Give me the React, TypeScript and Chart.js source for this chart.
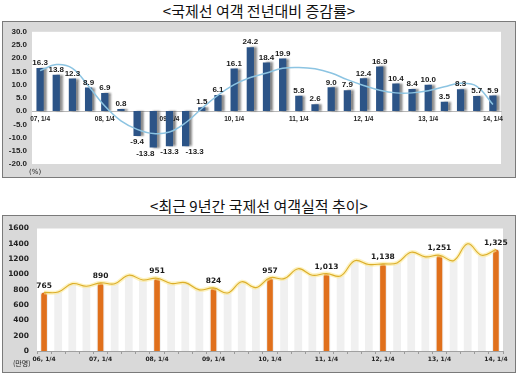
import React, { useEffect, useRef } from 'react';
import { Chart, registerables } from 'chart.js';

Chart.register(...registerables);

const topTitle = '<국제선 여객 전년대비 증감률>';
const bottomTitle = '<최근 9년간 국제선 여객실적 추이>';

const topCategories = [
  '07, 1/4', '07, 2/4', '07, 3/4', '07, 4/4',
  '08, 1/4', '08, 2/4', '08, 3/4', '08, 4/4',
  '09, 1/4', '09, 2/4', '09, 3/4', '09, 4/4',
  '10, 1/4', '10, 2/4', '10, 3/4', '10, 4/4',
  '11, 1/4', '11, 2/4', '11, 3/4', '11, 4/4',
  '12, 1/4', '12, 2/4', '12, 3/4', '12, 4/4',
  '13, 1/4', '13, 2/4', '13, 3/4', '13, 4/4',
  '14, 1/4',
];
const growthRate = [
  16.3, 13.8, 12.3, 8.9, 6.9, 0.8, -9.4, -13.8, -13.3, -13.3, 1.5, 6.1, 16.1, 24.2, 18.4,
  19.9, 5.8, 2.6, 9.0, 7.9, 12.4, 16.9, 10.4, 8.4, 10.0, 3.5, 8.3, 5.7, 5.9,
];
const growthTrend = [
  15.3, 17.6, 16.2, 9.4, 1.9, -3.7, -6.9, -8.5, -7.9, -4.4, 1.0, 6.0, 10.0, 12.7, 14.4,
  16.2, 16.5, 16.0, 14.4, 11.9, 9.7, 7.9, 6.9, 6.9, 7.7, 9.2, 10.5, 9.4, 2.5,
];
const topYTicks = [30, 25, 20, 15, 10, 5, 0, -5, -10, -15, -20];

const bottomCategories = [
  '06, 1/4', '06, 2/4', '06, 3/4', '06, 4/4',
  '07, 1/4', '07, 2/4', '07, 3/4', '07, 4/4',
  '08, 1/4', '08, 2/4', '08, 3/4', '08, 4/4',
  '09, 1/4', '09, 2/4', '09, 3/4', '09, 4/4',
  '10, 1/4', '10, 2/4', '10, 3/4', '10, 4/4',
  '11, 1/4', '11, 2/4', '11, 3/4', '11, 4/4',
  '12, 1/4', '12, 2/4', '12, 3/4', '12, 4/4',
  '13, 1/4', '13, 2/4', '13, 3/4', '13, 4/4',
  '14, 1/4',
];
const quarterlyPassengers = [
  765, 770, 880, 845,
  890, 878, 990, 928,
  951, 882, 893, 798,
  824, 758, 905, 828,
  957, 945, 1075, 990,
  1013, 980, 1180, 1130,
  1138, 1150, 1290, 1230,
  1251, 1180, 1400, 1250,
  1325,
];
const bottomYTicks = [0, 200, 400, 600, 800, 1000, 1200, 1400, 1600];

const isQ1 = (c: string) => c.endsWith('1/4');

const frameBg = {
  id: 'frameBg',
  beforeDraw(chart: any) {
    const { ctx, chartArea } = chart;
    ctx.save();
    ctx.fillStyle = '#d9d9d9';
    ctx.fillRect(0, 0, chart.width, chart.height);
    ctx.fillStyle = '#ffffff';
    ctx.fillRect(chartArea.left, chartArea.top, chartArea.right - chartArea.left, chartArea.bottom - chartArea.top);
    ctx.restore();
  },
};

// horizontal nudges of crowded value labels (style only)
const labelNudge: Record<number, number> = { 7: -8, 9: 9 };

function TopChart() {
  const ref = useRef<HTMLCanvasElement>(null);
  useEffect(() => {
    const shadow = {
      id: 'barShadow',
      beforeDatasetDraw(chart: any, args: any) {
        if (args.index === 0) {
          const ctx = chart.ctx;
          ctx.save();
          ctx.shadowColor = 'rgba(0,0,0,0.45)';
          ctx.shadowOffsetX = 3;
          ctx.shadowOffsetY = 0;
          ctx.shadowBlur = 2;
        }
      },
      afterDatasetDraw(chart: any, args: any) {
        if (args.index === 0) chart.ctx.restore();
      },
    };
    const labels = {
      id: 'topLabels',
      afterDatasetsDraw(chart: any) {
        const ctx = chart.ctx;
        const meta = chart.getDatasetMeta(0);
        ctx.save();
        ctx.font = 'bold 8px "Liberation Sans", Arial, sans-serif';
        ctx.fillStyle = '#1a1a1a';
        ctx.textAlign = 'center';
        meta.data.forEach((el: any, i: number) => {
          const v = growthRate[i];
          const dx = labelNudge[i] || 0;
          if (v >= 0) {
            ctx.textBaseline = 'bottom';
            ctx.fillText(v.toFixed(1), el.x + dx, el.y - 1);
          } else {
            ctx.textBaseline = 'top';
            ctx.fillText(v.toFixed(1), el.x + dx, el.y + 2);
          }
        });
        ctx.font = '7px "DejaVu Sans", sans-serif';
        ctx.textAlign = 'left';
        ctx.textBaseline = 'middle';
        ctx.fillText('(%)', 26, 150);
        ctx.restore();
      },
    };
    const chart = new Chart(ref.current!, {
      type: 'bar',
      data: {
        labels: topCategories,
        datasets: [
          {
            type: 'bar',
            data: growthRate,
            backgroundColor: '#2c5487',
            barPercentage: 0.45,
            categoryPercentage: 1,
            order: 1,
          },
          {
            type: 'line',
            data: growthTrend,
            borderColor: '#8cc4e2',
            borderWidth: 1.5,
            pointRadius: 0,
            tension: 0.4,
            order: 0,
          } as any,
        ],
      },
      options: {
        animation: false,
        responsive: false,
        devicePixelRatio: 1,
        layout: { padding: { top: 8, right: 14, bottom: 13, left: 0 } },
        plugins: { legend: { display: false }, tooltip: { enabled: false } },
        scales: {
          x: {
            type: 'category',
            position: { y: 0 } as any,
            grid: { display: false, drawTicks: false },
            border: { display: true, color: '#b8b8b8' },
            ticks: {
              autoSkip: false,
              maxRotation: 0,
              padding: 4,
              color: '#222',
              font: { family: '"Liberation Sans", Arial, sans-serif', size: 6.5, weight: 'bold' },
              callback: (_v: any, i: number) => (isQ1(topCategories[i]) ? topCategories[i] : ''),
            },
          },
          y: {
            min: -20,
            max: 30,
            afterFit: (s: any) => { s.width = 29; },
            afterBuildTicks: (s: any) => { s.ticks = topYTicks.map((v) => ({ value: v })); },
            grid: { display: false, drawTicks: false },
            border: { display: false },
            ticks: {
              padding: 5,
              color: '#222',
              font: { family: '"Liberation Sans", Arial, sans-serif', size: 8, weight: 'bold' },
              callback: (v: any) => Number(v).toFixed(1),
            },
          },
        },
      },
      plugins: [frameBg, shadow, labels],
    });
    return () => chart.destroy();
  }, []);
  return <canvas ref={ref} width={512} height={155} style={{ display: 'block' }} />;
}

function BottomChart() {
  const ref = useRef<HTMLCanvasElement>(null);
  useEffect(() => {
    const q1Data = quarterlyPassengers.map((v, i) => (isQ1(bottomCategories[i]) ? v : null));
    const labels = {
      id: 'bottomLabels',
      afterDatasetsDraw(chart: any) {
        const ctx = chart.ctx;
        const meta = chart.getDatasetMeta(2);
        ctx.save();
        ctx.font = 'bold 7.5px "DejaVu Sans", Verdana, sans-serif';
        ctx.fillStyle = '#1a1a1a';
        ctx.textAlign = 'center';
        ctx.textBaseline = 'bottom';
        meta.data.forEach((el: any, i: number) => {
          const v = q1Data[i];
          if (v == null) return;
          ctx.fillText(v.toLocaleString('en-US'), el.x, el.y - 3);
        });
        ctx.font = '7px "Noto Sans CJK KR", sans-serif';
        ctx.textAlign = 'left';
        ctx.textBaseline = 'middle';
        ctx.fillText('(만명)', 10, 147);
        ctx.restore();
      },
    };
    const chart = new Chart(ref.current!, {
      type: 'bar',
      data: {
        labels: bottomCategories,
        datasets: [
          {
            type: 'line',
            data: quarterlyPassengers,
            borderColor: '#dcae2a',
            borderWidth: 1.1,
            pointRadius: 0,
            tension: 0.4,
            order: 0,
          } as any,
          {
            type: 'line',
            data: quarterlyPassengers,
            borderColor: 'rgba(252, 234, 150, 0.6)',
            borderWidth: 4,
            pointRadius: 0,
            tension: 0.4,
            order: 1,
          } as any,
          {
            type: 'bar',
            data: q1Data,
            backgroundColor: '#e0701c',
            barPercentage: 0.4,
            categoryPercentage: 1,
            grouped: false,
            borderRadius: { topLeft: 3, topRight: 3 },
            borderSkipped: 'start',
            order: 2,
          } as any,
          {
            type: 'bar',
            data: quarterlyPassengers,
            backgroundColor: '#f0f0f0',
            barPercentage: 0.55,
            categoryPercentage: 1,
            grouped: false,
            order: 3,
          } as any,
        ],
      },
      options: {
        animation: false,
        responsive: false,
        devicePixelRatio: 1,
        layout: { padding: { top: 6, right: 12, bottom: 0, left: 0 } },
        plugins: { legend: { display: false }, tooltip: { enabled: false } },
        scales: {
          x: {
            type: 'category',
            afterFit: (s: any) => { s.height = 21; },
            grid: { display: true, drawOnChartArea: false, drawTicks: true, tickLength: 3, color: '#9a9a9a', offset: true },
            border: { display: true, color: '#a0a0a0' },
            ticks: {
              autoSkip: false,
              maxRotation: 0,
              padding: 2,
              color: '#222',
              font: { family: '"DejaVu Sans", Verdana, sans-serif', size: 6, weight: 'bold' },
              callback: (_v: any, i: number) => (isQ1(bottomCategories[i]) ? bottomCategories[i] : ''),
            },
          },
          y: {
            min: 0,
            max: 1600,
            afterFit: (s: any) => { s.width = 34; },
            afterBuildTicks: (s: any) => { s.ticks = bottomYTicks.map((v) => ({ value: v })); },
            grid: { display: false, drawTicks: false },
            border: { display: false },
            ticks: {
              padding: 8,
              color: '#222',
              font: { family: '"DejaVu Sans", Verdana, sans-serif', size: 7.5, weight: 'bold' },
              callback: (v: any) => String(v),
            },
          },
        },
      },
      plugins: [frameBg, labels],
    });
    return () => chart.destroy();
  }, []);
  return <canvas ref={ref} width={512} height={156} style={{ display: 'block' }} />;
}

const titleStyle: React.CSSProperties = {
  position: 'absolute',
  left: 0,
  width: 518,
  textAlign: 'center',
  fontFamily: '"Noto Sans CJK KR", sans-serif',
  fontSize: 15,
  lineHeight: '18px',
  color: '#111',
  whiteSpace: 'pre',
};

export default function App() {
  return (
    <div style={{ position: 'absolute', left: 0, top: 0, width: 518, height: 378, background: '#fff', overflow: 'hidden' }}>
      <div style={{ ...titleStyle, top: 2 }}>{topTitle}</div>
      <div style={{ position: 'absolute', left: 2, top: 21, border: '1px solid #7a7a7a', width: 512, height: 155 }}>
        <TopChart />
      </div>
      <div style={{ ...titleStyle, top: 197 }}>{bottomTitle}</div>
      <div style={{ position: 'absolute', left: 2, top: 215, border: '1px solid #7a7a7a', width: 512, height: 156 }}>
        <BottomChart />
      </div>
    </div>
  );
}
